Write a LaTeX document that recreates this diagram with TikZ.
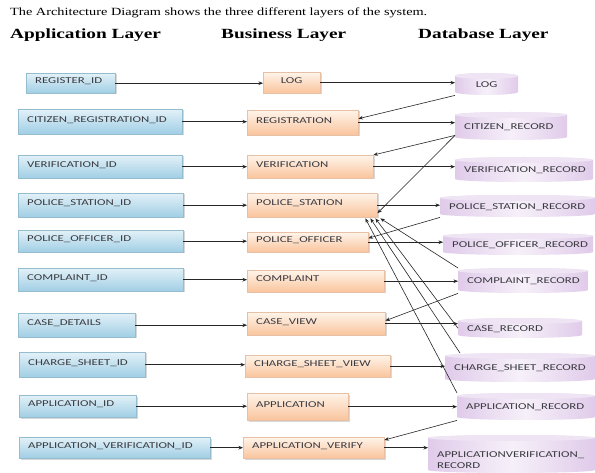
\documentclass[tikz,border=0pt]{standalone}
\usepackage{fontspec}
\setmainfont{Liberation Serif}
\newfontfamily\boxfont[FakeStretch=1.42]{Carlito}
\newfontfamily\headfont[FakeStretch=1.38]{Liberation Serif}
\newfontfamily\titlefont[FakeStretch=1.3]{Liberation Serif}
\usetikzlibrary{arrows.meta,shadows}
\definecolor{apptop}{RGB}{226,241,248}
\definecolor{appbot}{RGB}{160,206,228}
\definecolor{appline}{RGB}{150,188,208}
\definecolor{bustop}{RGB}{255,244,234}
\definecolor{busbot}{RGB}{249,196,156}
\definecolor{busline}{RGB}{232,192,165}
\definecolor{dbedge}{RGB}{224,203,234}
\definecolor{dbmid}{RGB}{246,240,249}
\definecolor{dbtopc}{RGB}{238,228,244}
\definecolor{txt}{RGB}{58,58,64}
\tikzset{
  boxbase/.style={rectangle, inner xsep=9pt, inner ysep=0pt, align=left,
    text height=6pt, text depth=5pt, text=txt,
    font=\boxfont\fontsize{9}{11}\selectfont},
  appbox/.style={boxbase, top color=apptop, bottom color=appbot, draw=appline, line width=0.4pt,
    drop shadow={shadow xshift=1.3pt, shadow yshift=-1.3pt, opacity=0.3}},
  busbox/.style={boxbase, top color=bustop, bottom color=busbot, draw=busline, line width=0.4pt,
    drop shadow={shadow xshift=1.3pt, shadow yshift=-1.3pt, opacity=0.3}},
  dbtext/.style={rectangle, inner xsep=9pt, inner ysep=0pt, align=left,
    text height=5.8pt, text depth=0pt, text=txt,
    font=\boxfont\fontsize{9}{11}\selectfont},
  dbshade/.style={left color=dbedge, right color=dbedge, middle color=dbmid},
  dbtop/.style={fill=dbtopc},
  conn/.style={-{Stealth[length=4.5pt,width=3.6pt]}, line width=0.6pt, draw=black!85},
}
\newcommand\mybox[7]{%
  \pgfmathsetmacro\bw{#5-#3}%
  \pgfmathsetmacro\bh{#6-#4}%
  \pgfmathsetmacro\tw{#5-#3-18}%
  \node[#1, anchor=north west, minimum width=\bw pt, minimum height=\bh pt, text width=\tw pt] (#2) at (#3,#4) {#7};}
\newcommand\mydb[7]{%
  \pgfmathsetmacro\bw{#5-#3}%
  \pgfmathsetmacro\bh{#6-#4}%
  \pgfmathsetmacro\tw{#5-#3-18}%
  \pgfmathsetmacro\rx{(#5-#3)/2}%
  \pgfmathsetmacro\xc{(#5+#3)/2}%
  \pgfmathsetmacro\ya{#4+3}%
  \pgfmathsetmacro\yb{#6-3}%
  \shade[dbshade] (#3,\ya) -- (#3,\yb) arc[start angle=180,end angle=360,x radius=\rx pt,y radius=3pt]
     -- (#5,\ya) arc[start angle=0,end angle=180,x radius=\rx pt,y radius=3pt] -- cycle;
  \fill[dbtop] (\xc,\ya) ellipse[x radius=\rx pt, y radius=3pt];
  \node[dbtext, #1, anchor=north west, minimum width=\bw pt, minimum height=\bh pt, text width=\tw pt] (#2) at (#3,#4) {#7};}
\begin{document}
\begin{tikzpicture}[x=1pt,y=-1pt]
\path[use as bounding box, fill=white] (0,0) rectangle (595,473);
% title and headers
\node[anchor=base west, inner sep=0pt, font=\titlefont\fontsize{11}{13}\selectfont] (title) at (10,16)
  {The Architecture Diagram shows the three different layers of the system.};
\node[anchor=base west, inner sep=0pt, font=\headfont\bfseries\fontsize{14}{16}\selectfont] (happ) at (10,39) {Application Layer};
\node[anchor=base west, inner sep=0pt, font=\headfont\bfseries\fontsize{14}{16}\selectfont] (hbus) at (221,39) {Business Layer};
\node[anchor=base west, inner sep=0pt, font=\headfont\bfseries\fontsize{14}{16}\selectfont] (hdb) at (418,39) {Database Layer};
% application layer
\mybox{appbox}{a1}{26}{73}{115}{93}{REGISTER\_ID}
\mybox{appbox}{a2}{18}{109}{182}{134}{CITIZEN\_REGISTRATION\_ID}
\mybox{appbox}{a3}{18}{155}{182}{178}{VERIFICATION\_ID}
\mybox{appbox}{a4}{18}{193}{183}{217}{POLICE\_STATION\_ID}
\mybox{appbox}{a5}{18}{230}{183}{252}{POLICE\_OFFICER\_ID}
\mybox{appbox}{a6}{18}{268}{183}{291}{COMPLAINT\_ID}
\mybox{appbox}{a7}{18}{313}{135}{337}{CASE\_DETAILS}
\mybox{appbox}{a8}{19}{352}{145}{377}{CHARGE\_SHEET\_ID}
\mybox{appbox}{a9}{19}{395}{136}{417}{APPLICATION\_ID}
\mybox{appbox}{a10}{19}{437}{210}{458}{APPLICATION\_VERIFICATION\_ID}
% business layer
\mybox{busbox,align=center}{b1}{263}{72}{320}{93}{LOG}
\mybox{busbox}{b2}{247}{110}{358}{135}{REGISTRATION}
\mybox{busbox}{b3}{247}{155}{373}{178}{VERIFICATION}
\mybox{busbox}{b4}{247}{193}{377}{217}{POLICE\_STATION}
\mybox{busbox}{b5}{247}{232}{368}{252}{POLICE\_OFFICER}
\mybox{busbox}{b6}{247}{270}{384}{292}{COMPLAINT}
\mybox{busbox}{b7}{247}{312}{385}{335}{CASE\_VIEW}
\mybox{busbox}{b8}{245}{355}{390}{377}{CHARGE\_SHEET\_VIEW}
\mybox{busbox}{b9}{247}{393}{348}{420}{APPLICATION}
\mybox{busbox}{b10}{243}{437}{384}{458}{APPLICATION\_VERIFY}
% database layer
\mydb{align=center}{d1}{455}{73}{518}{95}{LOG}
\mydb{}{d2}{455}{112}{567}{140}{CITIZEN\_RECORD}
\mydb{}{d3}{455}{157}{593}{182}{VERIFICATION\_RECORD}
\mydb{}{d4}{440}{195}{595}{217}{POLICE\_STATION\_RECORD}
\mydb{}{d5}{443}{233}{593}{255}{POLICE\_OFFICER\_RECORD}
\mydb{}{d6}{458}{268}{588}{293}{COMPLAINT\_RECORD}
\mydb{}{d7}{458}{318}{582}{338}{CASE\_RECORD}
\mydb{}{d8}{445}{353}{595}{382}{CHARGE\_SHEET\_RECORD}
\mydb{}{d9}{457}{393}{595}{420}{APPLICATION\_RECORD}
\mydb{}{d10}{428}{435}{595}{473}{APPLICATIONVERIFICATION\_\\RECORD}
% application -> business, business -> database
\foreach \i in {1,...,10}{
  \draw[conn] (a\i.east) -- (a\i.east -| b\i.west);
  \draw[conn] (b\i.east) -- (b\i.east -| d\i.west);
}
% database -> business
\draw[conn] (d1.south west) -- ([yshift=4pt]b2.east);
\draw[conn] ([yshift=5pt]d2.south west) -- (b3.north east);
\draw[conn] ([yshift=5pt]d2.south west) -- ([yshift=-8pt]b4.east);
\draw[conn] (d4.south west) -- ([yshift=4pt]b5.east);
\draw[conn] (d6.north west) -- ([xshift=3pt,yshift=-1pt]b4.south east);
\draw[conn] (d7.west) -- ([xshift=-2pt,yshift=-1pt]b4.south east);
\draw[conn] ([xshift=15pt]d8.north west) -- ([xshift=-7pt,yshift=-1pt]b4.south east);
\draw[conn] (d9.north west) -- ([xshift=-12pt,yshift=-1pt]b4.south east);
\draw[conn] (d6.south west) -- ([yshift=3pt]b7.east);
\draw[conn] (d9.south west) -- ([yshift=-3pt]b10.north east);
\end{tikzpicture}
\end{document}
